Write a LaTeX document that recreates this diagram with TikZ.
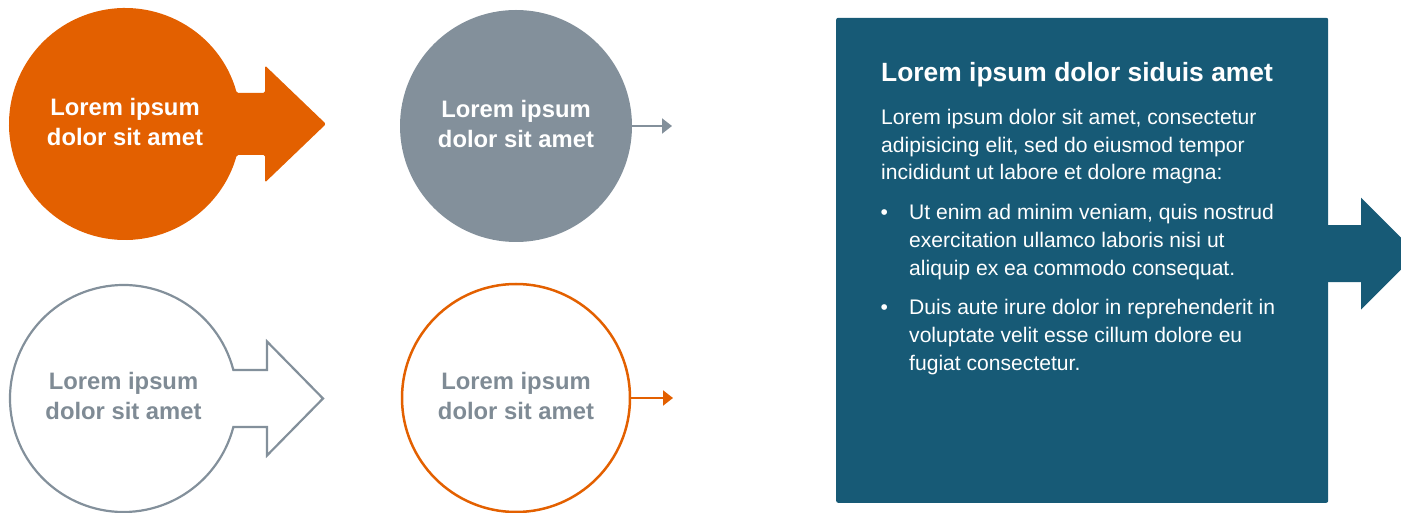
\documentclass[tikz,border=0pt]{standalone}
\usepackage{fontspec}
\setmainfont{Liberation Sans}
\usetikzlibrary{arrows.meta}
\definecolor{orangeC}{RGB}{227,96,0}
\definecolor{greyC}{RGB}{131,144,155}
\definecolor{textGrey}{RGB}{127,139,149}
\definecolor{blueC}{RGB}{23,90,118}
\tikzset{
  circtext/.style={align=center, inner sep=0pt, font=\fontsize{23.8}{30}\selectfont\bfseries},
  bodyline/.style={anchor=base west, inner sep=0pt, text=white, font=\fontsize{21.1}{27.5}\selectfont},
  titleline/.style={anchor=base west, inner sep=0pt, text=white, font=\fontsize{26.4}{30}\selectfont\bfseries},
  tiparrow/.style={line width=2pt, -{Triangle[length=10pt,width=15pt]}},
  roundnode/.style={circle, inner sep=0pt, outer sep=0pt}
}
\begin{document}
\begin{tikzpicture}[x=1pt,y=1pt]
\useasboundingbox (0,0) rectangle (1401,512);
\clip (0,0) rectangle (1401,512);

% top-left: solid orange circle with block arrow
\coordinate (c1) at (125,388);
\fill[orangeC, rounded corners=1.5pt] ([shift={(15.5:116)}]c1) arc[start angle=15.5, end angle=344.5, radius=116]
  -- (265,357) -- (265,329.5) -- (326,388) -- (265,446.5) -- (265,419) -- cycle;
\node[circtext, text=white] (t1) at (125,390.5) {Lorem ipsum\\dolor sit amet};

% top-middle: solid grey circle with thin arrow
\node[roundnode, fill=greyC, minimum size=232pt] (g) at (516,386) {};
\coordinate (ga) at (672,386);
\draw[tiparrow, greyC] (g.east) -- (ga);
\node[circtext, text=white] (t2) at (516,388.5) {Lorem ipsum\\dolor sit amet};

% bottom-left: outlined grey circle with block arrow
\coordinate (c3) at (123.5,113.5);
\draw[greyC, line width=2.2pt, line join=miter] ([shift={(14.54:113.5)}]c3) arc[start angle=14.54, end angle=345.46, radius=113.5]
  -- (267,85) -- (267,56.5) -- (323,113.5) -- (267,170.5) -- (267,142) -- cycle;
\node[circtext, text=textGrey] (t3) at (123.5,116) {Lorem ipsum\\dolor sit amet};

% bottom-middle: outlined orange circle with thin arrow
\node[roundnode, draw=orangeC, line width=2.5pt, minimum size=228pt] (o) at (516,114) {};
\coordinate (oa) at (673,114);
\draw[tiparrow, orangeC] (o.east) -- (oa);
\node[circtext, text=textGrey] (t4) at (516,116.5) {Lorem ipsum\\dolor sit amet};

% right: blue text box with block arrow
\node[fill=blueC, rounded corners=2pt, inner sep=0pt, minimum width=492pt, minimum height=485pt, anchor=south west] (bx) at (836,9) {};
\fill[blueC] (1326,286.8) -- (1361,286.8) -- (1361,314.3) -- (1417,258.3) -- (1361,202.3) -- (1361,229.8) -- (1326,229.8) -- cycle;

\node[titleline] (tt) at (881,430.3) {Lorem ipsum dolor siduis amet};
\node[bodyline] (b1) at (881,387) {Lorem ipsum dolor sit amet, consectetur};
\node[bodyline] (b2) at (881,359.5) {adipisicing elit, sed do eiusmod tempor};
\node[bodyline] (b3) at (881,332) {incididunt ut labore et dolore magna:};
\node[bodyline] (d1) at (880.5,292) {•};
\node[bodyline] (l1) at (909,292) {Ut enim ad minim veniam, quis nostrud};
\node[bodyline] (l2) at (909,264) {exercitation ullamco laboris nisi ut};
\node[bodyline] (l3) at (909,236) {aliquip ex ea commodo consequat.};
\node[bodyline] (d2) at (880.5,197) {•};
\node[bodyline] (l4) at (909,197) {Duis aute irure dolor in reprehenderit in};
\node[bodyline] (l5) at (909,169) {voluptate velit esse cillum dolore eu};
\node[bodyline] (l6) at (909,142) {fugiat consectetur.};
\end{tikzpicture}
\end{document}
